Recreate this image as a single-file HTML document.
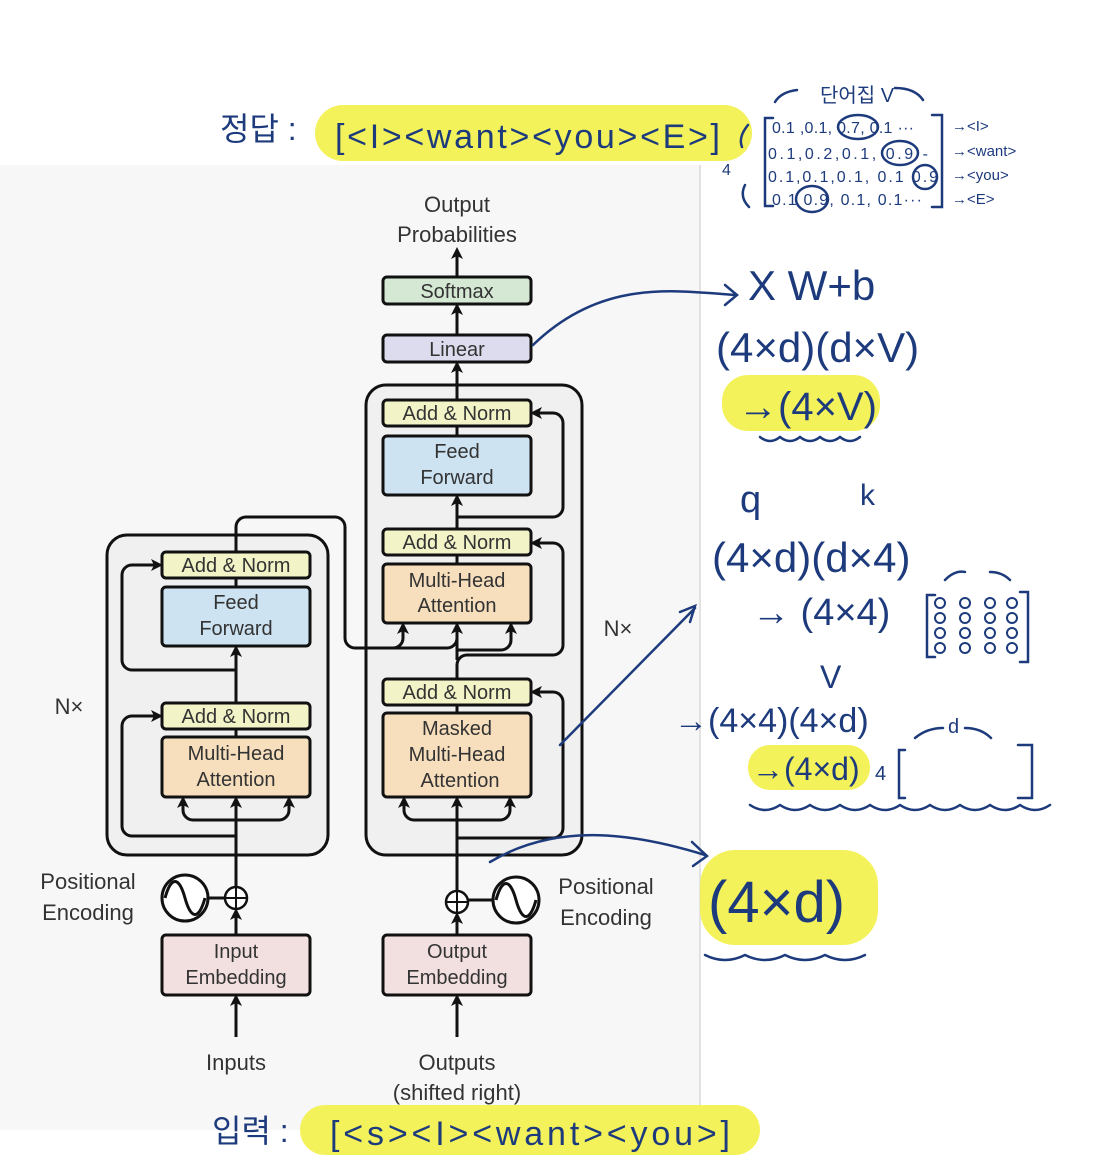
<!DOCTYPE html>
<html><head><meta charset="utf-8"><style>
html,body{margin:0;padding:0;background:#fff;}
svg{display:block;}
.t{font-family:"Liberation Sans",sans-serif;fill:#333;font-size:22px;text-anchor:middle;}
.b{font-family:"Liberation Sans",sans-serif;fill:#333;font-size:20px;text-anchor:middle;}
.h{font-family:"Liberation Sans","Noto Sans CJK KR",sans-serif;fill:#1d3b7c;}
.box{stroke:#111;stroke-width:3;}
.ln{stroke:#111;stroke-width:3;fill:none;}
.hw{stroke:#1d3b7c;stroke-width:2.5;fill:none;stroke-linecap:round;}
</style></head><body>
<svg width="1102" height="1172" viewBox="0 0 1102 1172" xmlns="http://www.w3.org/2000/svg">
<defs>
<marker id="a" markerWidth="12" markerHeight="12" refX="9" refY="6" orient="auto" markerUnits="userSpaceOnUse"><path d="M0,0 L12,6 L0,12 L3,6z" fill="#111"/></marker>
</defs>
<rect x="0" y="165" width="700" height="965" fill="#f7f7f7"/>
<line x1="700" y1="165" x2="700" y2="1130" stroke="#e2e2e2" stroke-width="2"/>

<rect x="315" y="105" width="437" height="56" rx="28" fill="#f4f25a"/>
<rect x="300" y="1105" width="460" height="50" rx="25" fill="#f4f25a"/>
<rect x="722" y="375" width="158" height="56" rx="26" fill="#f4f25a"/>
<rect x="748" y="745" width="122" height="45" rx="22" fill="#f4f25a"/>
<rect x="700" y="850" width="178" height="95" rx="35" fill="#f4f25a"/>

<rect x="107" y="535" width="221" height="320" rx="20" fill="#f0f0f0" class="box"/>
<rect x="366" y="385" width="216" height="470" rx="20" fill="#f0f0f0" class="box"/>

<text class="t" x="457" y="212">Output</text>
<text class="t" x="457" y="242">Probabilities</text>
<line class="ln" x1="457" y1="277" x2="457" y2="250" marker-end="url(#a)"/>
<rect class="box" x="383" y="277" width="148" height="27" rx="4" fill="#d4e8d4"/>
<text class="b" x="457" y="298">Softmax</text>
<line class="ln" x1="457" y1="335" x2="457" y2="306" marker-end="url(#a)"/>
<rect class="box" x="383" y="335" width="148" height="27" rx="4" fill="#dcdcee"/>
<text class="b" x="457" y="356">Linear</text>
<line class="ln" x1="457" y1="400" x2="457" y2="364" marker-end="url(#a)"/>

<rect class="box" x="383" y="400" width="148" height="26" rx="4" fill="#f2f4c8"/>
<text class="b" x="457" y="420">Add &amp; Norm</text>
<line class="ln" x1="457" y1="436" x2="457" y2="426"/>
<rect class="box" x="383" y="436" width="148" height="59" rx="4" fill="#cde3f2"/>
<text class="b" x="457" y="458">Feed</text><text class="b" x="457" y="484">Forward</text>
<line class="ln" x1="457" y1="529" x2="457" y2="497" marker-end="url(#a)"/>
<path class="ln" d="M457,517 H553 a10,10 0 0 0 10,-10 V423 a10,10 0 0 0 -10,-10 H533" marker-end="url(#a)"/>
<rect class="box" x="383" y="529" width="148" height="26" rx="4" fill="#f2f4c8"/>
<text class="b" x="457" y="549">Add &amp; Norm</text>
<line class="ln" x1="457" y1="564" x2="457" y2="555"/>
<rect class="box" x="383" y="564" width="148" height="59" rx="4" fill="#f7dfbd"/>
<text class="b" x="457" y="587">Multi-Head</text><text class="b" x="457" y="612">Attention</text>
<path class="ln" d="M457,679 V665 a10,10 0 0 1 10,-10 H553 a10,10 0 0 0 10,-10 V553 a10,10 0 0 0 -10,-10 H533" marker-end="url(#a)"/>
<path class="ln" d="M457,660 V625" marker-end="url(#a)"/>
<path class="ln" d="M457,650 H501 a10,10 0 0 0 10,-10 V625" marker-end="url(#a)"/>
<path class="ln" d="M236,535 V527 a10,10 0 0 1 10,-10 H335 a10,10 0 0 1 10,10 V638 a10,10 0 0 0 10,10 H393 a10,10 0 0 0 10,-10 V625" marker-end="url(#a)"/>
<path class="ln" d="M393,648 H447 a10,10 0 0 0 10,-10" />
<rect class="box" x="383" y="679" width="148" height="26" rx="4" fill="#f2f4c8"/>
<text class="b" x="457" y="699">Add &amp; Norm</text>
<line class="ln" x1="457" y1="713" x2="457" y2="705"/>
<rect class="box" x="383" y="713" width="148" height="84" rx="4" fill="#f7dfbd"/>
<text class="b" x="457" y="735">Masked</text><text class="b" x="457" y="761">Multi-Head</text><text class="b" x="460" y="787">Attention</text>
<line class="ln" x1="457" y1="890" x2="457" y2="799" marker-end="url(#a)"/>
<path class="ln" d="M457,820 H414 a10,10 0 0 1 -10,-10 V799" marker-end="url(#a)"/>
<path class="ln" d="M457,820 H500 a10,10 0 0 0 10,-10 V799" marker-end="url(#a)"/>
<path class="ln" d="M457,838 H553 a10,10 0 0 0 10,-10 V702 a10,10 0 0 0 -10,-10 H533" marker-end="url(#a)"/>

<rect class="box" x="162" y="552" width="148" height="26" rx="4" fill="#f2f4c8"/>
<text class="b" x="236" y="572">Add &amp; Norm</text>
<line class="ln" x1="236" y1="535" x2="236" y2="552"/>
<line class="ln" x1="236" y1="587" x2="236" y2="578"/>
<rect class="box" x="162" y="587" width="148" height="59" rx="4" fill="#cde3f2"/>
<text class="b" x="236" y="609">Feed</text><text class="b" x="236" y="635">Forward</text>
<line class="ln" x1="236" y1="703" x2="236" y2="648" marker-end="url(#a)"/>
<path class="ln" d="M236,670 H132 a10,10 0 0 1 -10,-10 V575 a10,10 0 0 1 10,-10 H160" marker-end="url(#a)"/>
<rect class="box" x="162" y="703" width="148" height="26" rx="4" fill="#f2f4c8"/>
<text class="b" x="236" y="723">Add &amp; Norm</text>
<line class="ln" x1="236" y1="737" x2="236" y2="729"/>
<rect class="box" x="162" y="737" width="148" height="60" rx="4" fill="#f7dfbd"/>
<text class="b" x="236" y="760">Multi-Head</text><text class="b" x="236" y="786">Attention</text>
<line class="ln" x1="236" y1="886" x2="236" y2="799" marker-end="url(#a)"/>
<path class="ln" d="M236,820 H193 a10,10 0 0 1 -10,-10 V799" marker-end="url(#a)"/>
<path class="ln" d="M236,820 H279 a10,10 0 0 0 10,-10 V799" marker-end="url(#a)"/>
<path class="ln" d="M236,836 H132 a10,10 0 0 1 -10,-10 V726 a10,10 0 0 1 10,-10 H160" marker-end="url(#a)"/>

<circle cx="185" cy="898" r="23" fill="#fff" stroke="#111" stroke-width="3"/>
<path d="M165,898 c6,-22 14,-22 20,0 c6,22 14,22 20,0" class="ln" stroke-width="2"/>
<line class="ln" x1="208" y1="898" x2="225" y2="898"/>
<circle cx="236" cy="898" r="11" fill="#fff" stroke="#111" stroke-width="2.5"/>
<path d="M226,898 H246 M236,888 V908" stroke="#111" stroke-width="2"/>
<line class="ln" x1="236" y1="935" x2="236" y2="911" marker-end="url(#a)"/>
<circle cx="516" cy="900" r="23" fill="#fff" stroke="#111" stroke-width="3"/>
<path d="M496,900 c6,-22 14,-22 20,0 c6,22 14,22 20,0" class="ln" stroke-width="2"/>
<line class="ln" x1="468" y1="900" x2="493" y2="900"/>
<circle cx="457" cy="902" r="11" fill="#fff" stroke="#111" stroke-width="2.5"/>
<path d="M447,902 H467 M457,892 V912" stroke="#111" stroke-width="2"/>
<line class="ln" x1="457" y1="935" x2="457" y2="915" marker-end="url(#a)"/>
<text class="t" x="88" y="889">Positional</text><text class="t" x="88" y="920">Encoding</text>
<text class="t" x="606" y="894">Positional</text><text class="t" x="606" y="925">Encoding</text>
<text class="t" x="69" y="714">N×</text><text class="t" x="618" y="636">N×</text>

<rect class="box" x="162" y="935" width="148" height="60" rx="4" fill="#f2dfe0"/>
<text class="b" x="236" y="958">Input</text><text class="b" x="236" y="984">Embedding</text>
<rect class="box" x="383" y="935" width="148" height="60" rx="4" fill="#f2dfe0"/>
<text class="b" x="457" y="958">Output</text><text class="b" x="457" y="984">Embedding</text>
<line class="ln" x1="236" y1="1037" x2="236" y2="997" marker-end="url(#a)"/>
<line class="ln" x1="457" y1="1037" x2="457" y2="997" marker-end="url(#a)"/>
<text class="t" x="236" y="1070">Inputs</text>
<text class="t" x="457" y="1070">Outputs</text>
<text class="t" x="457" y="1100">(shifted right)</text>

<text class="h" x="220" y="140" font-size="32">정답 :</text>
<text class="h" x="335" y="148" font-size="34" fill="#1a3a28" textLength="385">[&lt;I&gt;&lt;want&gt;&lt;you&gt;&lt;E&gt;]</text>
<text class="h" x="212" y="1142" font-size="32">입력 :</text>
<text class="h" x="330" y="1145" font-size="34" fill="#1a3a28" textLength="400">[&lt;s&gt;&lt;I&gt;&lt;want&gt;&lt;you&gt;]</text>

<text class="h" x="820" y="102" font-size="20">단어집 V</text>
<path class="hw" d="M775,102 q6,-10 22,-12 M895,88 q20,0 28,12"/>
<path class="hw" d="M773,118 h-8 v88 h8 M932,115 h10 v92 h-10"/>
<path class="hw" d="M748,125 q-10,12 -6,22 M745,185 q-6,12 4,22"/>
<text class="h" x="722" y="175" font-size="16">4</text>
<g class="h" font-size="16">
<text x="772" y="133" textLength="142">0.1 ,0.1, 0.7, 0.1 ···</text>
<text x="768" y="159" textLength="160">0.1,0.2,0.1, 0.9 -</text>
<text x="768" y="182" textLength="170">0.1,0.1,0.1, 0.1 0.9</text>
<text x="772" y="205" textLength="150">0.1 0.9, 0.1, 0.1···</text>
<text x="952" y="131" font-size="15">→&lt;I&gt;</text>
<text x="952" y="156" font-size="15">→&lt;want&gt;</text>
<text x="952" y="180" font-size="15">→&lt;you&gt;</text>
<text x="952" y="204" font-size="15">→&lt;E&gt;</text>
</g>
<ellipse class="hw" cx="858" cy="127" rx="20" ry="12" stroke-width="2"/>
<ellipse class="hw" cx="900" cy="153" rx="18" ry="12" stroke-width="2"/>
<ellipse class="hw" cx="925" cy="177" rx="12" ry="12" stroke-width="2"/>
<ellipse class="hw" cx="812" cy="199" rx="16" ry="13" stroke-width="2"/>

<text class="h" x="748" y="300" font-size="42">X W+b</text>
<text class="h" x="716" y="362" font-size="42">(4×d)(d×V)</text>
<text class="h" x="738" y="420" font-size="40">→(4×V)</text>
<path class="hw" d="M760,437 q10,8 20,0 q10,8 20,0 q10,8 20,0 q10,8 20,0 q10,8 20,0"/>
<text class="h" x="740" y="512" font-size="38">q</text>
<text class="h" x="860" y="505" font-size="30">k</text>
<text class="h" x="712" y="572" font-size="42">(4×d)(d×4)</text>
<text class="h" x="752" y="625" font-size="38">→ (4×4)</text>
<path class="hw" d="M935,595 h-8 v62 h8 M1020,592 h8 v70 h-8 M945,580 q10,-10 20,-8 M990,572 q12,0 20,8"/>
<g fill="none" stroke="#1d3b7c" stroke-width="2">
<circle cx="940" cy="603" r="5"/><circle cx="965" cy="603" r="5"/><circle cx="990" cy="603" r="5"/><circle cx="1012" cy="603" r="5"/>
<circle cx="940" cy="618" r="5"/><circle cx="965" cy="618" r="5"/><circle cx="990" cy="618" r="5"/><circle cx="1012" cy="618" r="5"/>
<circle cx="940" cy="633" r="5"/><circle cx="965" cy="633" r="5"/><circle cx="990" cy="633" r="5"/><circle cx="1012" cy="633" r="5"/>
<circle cx="940" cy="648" r="5"/><circle cx="965" cy="648" r="5"/><circle cx="990" cy="648" r="5"/><circle cx="1012" cy="648" r="5"/>
</g>
<text class="h" x="820" y="688" font-size="32">V</text>
<text class="h" x="674" y="732" font-size="34">→(4×4)(4×d)</text>
<text class="h" x="752" y="780" font-size="32">→(4×d)</text>
<text class="h" x="875" y="780" font-size="20">4</text>
<text class="h" x="948" y="733" font-size="20">d</text>
<path class="hw" d="M905,750 h-6 v48 h6 M1018,745 h14 v53 h-14 M915,738 q12,-10 28,-10 M965,728 q16,0 26,10"/>
<path class="hw" d="M750,805 q15,10 30,0 q15,10 30,0 q15,10 30,0 q15,10 30,0 q15,10 30,0 q15,10 30,0 q15,10 30,0 q15,10 30,0 q15,10 30,0 q15,10 30,0"/>
<text class="h" x="708" y="922" font-size="58">(4×d)</text>
<path class="hw" d="M705,955 q20,10 40,0 q20,10 40,0 q20,10 40,0 q20,10 40,0"/>

<path class="hw" d="M533,345 C600,280 670,290 735,295 M725,285 L737,295 L725,305"/>
<path class="hw" d="M560,745 L695,608 M680,612 L695,606 L690,622"/>
<path class="hw" d="M490,862 C560,820 640,835 705,855 M692,842 L707,856 L693,866"/>
</svg>
</body></html>
